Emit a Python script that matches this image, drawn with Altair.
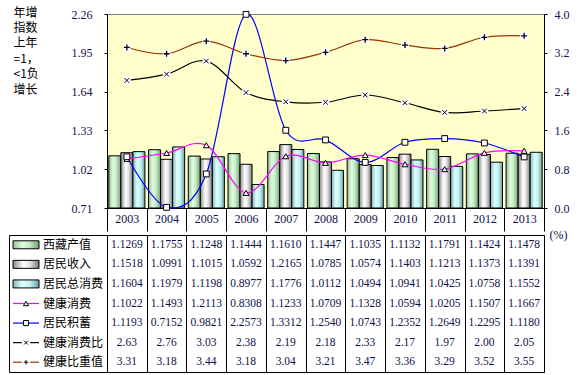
import altair as alt
import pandas as pd

# ---------------- data ----------------
years = [2003, 2004, 2005, 2006, 2007, 2008, 2009, 2010, 2011, 2012, 2013]
xizang_output = [1.1269, 1.1755, 1.1248, 1.1444, 1.1610, 1.1447, 1.1035, 1.1132, 1.1791, 1.1424, 1.1478]
resident_income = [1.1518, 1.0991, 1.1015, 1.0592, 1.2165, 1.0785, 1.0574, 1.1403, 1.1213, 1.1373, 1.1391]
resident_consumption = [1.1604, 1.1979, 1.1198, 0.8977, 1.1776, 1.0112, 1.0494, 1.0941, 1.0425, 1.0758, 1.1552]
health_consumption = [1.1022, 1.1493, 1.2113, 0.8308, 1.1233, 1.0709, 1.1328, 1.0594, 1.0205, 1.1507, 1.1667]
resident_savings = [1.1193, 0.7152, 0.9821, 2.2573, 1.3312, 1.2540, 1.0743, 1.2352, 1.2649, 1.2295, 1.1180]
health_ratio = [2.63, 2.76, 3.03, 2.38, 2.19, 2.18, 2.33, 2.17, 1.97, 2.00, 2.05]
health_share = [3.31, 3.18, 3.44, 3.18, 3.04, 3.21, 3.47, 3.36, 3.29, 3.52, 3.55]

series_names = ["西藏产值", "居民收入", "居民总消费", "健康消费", "居民积蓄", "健康消费比", "健康比重值"]
left_ticks = [0.71, 1.02, 1.33, 1.64, 1.95, 2.26]
right_ticks = [0.0, 0.8, 1.6, 2.4, 3.2, 4.0]
left_title = ["年增", "指数", "上年", "=1，", "<1负", "增长"]
right_title = "(%)"

# ---------------- styles ----------------
SERIF = "Liberation Serif"
CJK = "Noto Sans CJK SC"
TXT = "#10104a"
PLOT_W, PLOT_H = 437, 194
LAB_W, TAB_H = 98, 137


def grad(stops):
    return alt.LinearGradient(
        gradient="linear", x1=0, x2=1, y1=0, y2=0,
        stops=[alt.GradientStop(offset=o, color=c) for o, c in stops],
    )


GREEN = grad([(0, "#95c095"), (0.35, "#e0fae0"), (0.6, "#c8eec8"), (1, "#74a474")])
GRAY = grad([(0, "#8a8a8a"), (0.4, "#ffffff"), (0.65, "#e2e2e2"), (1, "#787878")])
CYAN = grad([(0, "#80b6b6"), (0.35, "#dcffff"), (0.65, "#c4f2f2"), (1, "#6aa0a0")])


def frame(vals, key):
    return pd.DataFrame({"year": years, "v": vals, "s": key})


x_axis = alt.Axis(
    title=None, tickBand="extent", tickSize=23, tickColor="black", domainColor="black",
    labelAngle=0, labelFont=SERIF, labelFontSize=12, labelColor=TXT,
    labelBaseline="middle", labelPadding=-13, grid=False,
)
X = alt.X("year:O", scale=alt.Scale(paddingInner=0, paddingOuter=0), axis=x_axis)

left_axis = alt.Axis(
    title=left_title, titleAngle=0, titleAlign="left", titleBaseline="top",
    titleX=-94, titleY=-7, titleFont=CJK, titleFontSize=12, titleFontWeight="normal",
    titleColor="black", titleLineHeight=15.4,
    values=left_ticks, format=".2f", labelFont=SERIF, labelFontSize=12, labelColor=TXT,
    labelPadding=12, tickSize=3, tickColor="black", domainColor="black", grid=False,
)
right_axis = alt.Axis(
    orient="right", title=None,
    values=right_ticks, format=".1f", labelFont=SERIF, labelFontSize=12, labelColor=TXT,
    labelPadding=7, tickSize=3, tickColor="black", domainColor="black", grid=False,
)
YL = alt.Y("v:Q", scale=alt.Scale(domain=[0.71, 2.26], zero=False, nice=False), axis=left_axis)
YR = alt.Y("v:Q", scale=alt.Scale(domain=[0, 4], zero=False, nice=False), axis=right_axis)
XOFF = alt.XOffset("s:N", scale=alt.Scale(domain=["a", "b", "c"], paddingInner=0, paddingOuter=0.15))

LINE = dict(strokeWidth=1.2, interpolate="cardinal", tension=0)
CROSS = "M-1,-1L1,1M-1,1L1,-1"
PLUS = "M-1,0L1,0M0,-1L0,1"

# ---------------- bars (left axis) ----------------
bars = []
for vals, key, g in [(xizang_output, "a", GREEN), (resident_income, "b", GRAY), (resident_consumption, "c", CYAN)]:
    bars.append(
        alt.Chart(frame(vals, key)).mark_bar(fill=g, stroke="black", strokeWidth=1)
        .encode(x=X, xOffset=XOFF, y=YL, y2=alt.datum(0.71))
    )

hc = frame(health_consumption, "h")
sv = frame(resident_savings, "sv")
left_lines = [
    alt.Chart(sv).mark_line(color="#0000FF", **LINE).encode(x=X, y=YL),
    alt.Chart(hc).mark_line(color="#FF00FF", **LINE).encode(x=X, y=YL),
    alt.Chart(hc).mark_point(shape="triangle-up", filled=True, fill="white", stroke="black",
                             strokeWidth=1, size=34, opacity=1).encode(x=X, y=YL),
    alt.Chart(sv).mark_point(shape="square", filled=True, fill="white", stroke="black",
                             strokeWidth=1, size=34, opacity=1).encode(x=X, y=YL),
]
left_layer = alt.layer(*bars, *left_lines)

# ---------------- lines (right axis) ----------------
rt = frame(health_ratio, "r")
sh = frame(health_share, "p")
right_layer = alt.layer(
    alt.Chart(rt).mark_line(color="black", **LINE).encode(x=X, y=YR),
    alt.Chart(sh).mark_line(color="#993300", **LINE).encode(x=X, y=YR),
    alt.Chart(rt).mark_point(shape="square", filled=True, fill="white", strokeOpacity=0,
                             size=60, opacity=1).encode(x=X, y=YR),
    alt.Chart(sh).mark_point(shape="square", filled=True, fill="white", strokeOpacity=0,
                             size=60, opacity=1).encode(x=X, y=YR),
    alt.Chart(rt).mark_point(shape=CROSS, filled=False, stroke="black", strokeWidth=1,
                             size=22, opacity=1).encode(x=X, y=YR),
    alt.Chart(sh).mark_point(shape=PLUS, filled=False, stroke="black", strokeWidth=1.3,
                             size=36, opacity=1).encode(x=X, y=YR),
)

plot = (
    alt.layer(left_layer, right_layer)
    .resolve_scale(y="independent")
    .properties(width=PLOT_W, height=PLOT_H,
                view=alt.ViewBackground(fill="#FFFFCC", stroke="#808080"))
)

spacer = (
    alt.Chart(pd.DataFrame({"a": [0]})).mark_point(opacity=0)
    .encode(x=alt.value(0), y=alt.value(0))
    .properties(width=LAB_W, height=PLOT_H, view=alt.ViewBackground(strokeOpacity=0))
)

# ---------------- table: legend column ----------------
rows_df = pd.DataFrame({"row": series_names})
YROW = alt.Y("row:N", sort=series_names, axis=None,
             scale=alt.Scale(domain=series_names, paddingInner=0, paddingOuter=0))


def one(i):
    return alt.Chart(rows_df.iloc[[i]])


legend_layers = []
for i, g in enumerate([GREEN, GRAY, CYAN]):
    legend_layers.append(
        one(i).mark_bar(height=8, fill=g, stroke="black", strokeWidth=1)
        .encode(x=alt.value(4), x2=alt.value(30), y=YROW)
    )
for i, c in [(3, "#FF00FF"), (4, "#0000FF"), (5, "black"), (6, "#993300")]:
    legend_layers.append(
        one(i).mark_rule(color=c, strokeWidth=1.2).encode(x=alt.value(4), x2=alt.value(30), y=YROW)
    )
legend_layers += [
    one(3).mark_point(shape="triangle-up", filled=True, fill="white", stroke="black",
                      strokeWidth=1, size=26, opacity=1).encode(x=alt.value(17), y=YROW),
    one(4).mark_point(shape="square", filled=True, fill="white", stroke="black",
                      strokeWidth=1, size=26, opacity=1).encode(x=alt.value(17), y=YROW),
    one(5).mark_point(shape="square", filled=True, fill="white", strokeOpacity=0,
                      size=70, opacity=1).encode(x=alt.value(17), y=YROW),
    one(6).mark_point(shape="square", filled=True, fill="white", strokeOpacity=0,
                      size=70, opacity=1).encode(x=alt.value(17), y=YROW),
    one(5).mark_point(shape=CROSS, filled=False, stroke="black", strokeWidth=1,
                      size=14, opacity=1).encode(x=alt.value(17), y=YROW),
    one(6).mark_point(shape=PLUS, filled=False, stroke="black", strokeWidth=1,
                      size=22, opacity=1).encode(x=alt.value(17), y=YROW),
    alt.Chart(rows_df).mark_text(align="left", baseline="middle", font=CJK, fontSize=12,
                                 color="black").encode(x=alt.value(34), y=YROW, text="row:N"),
]
label_panel = alt.layer(*legend_layers).properties(
    width=LAB_W, height=TAB_H, view=alt.ViewBackground(fill="white", stroke="black")
)

# ---------------- table: values ----------------
cells = []
for name, vals, fmt in [
    (series_names[0], xizang_output, "{:.4f}"),
    (series_names[1], resident_income, "{:.4f}"),
    (series_names[2], resident_consumption, "{:.4f}"),
    (series_names[3], health_consumption, "{:.4f}"),
    (series_names[4], resident_savings, "{:.4f}"),
    (series_names[5], health_ratio, "{:.2f}"),
    (series_names[6], health_share, "{:.2f}"),
]:
    for y, v in zip(years, vals):
        cells.append({"row": name, "year": y, "txt": fmt.format(v)})
cells_df = pd.DataFrame(cells)

grid_x = alt.X("year:O", scale=alt.Scale(paddingInner=0, paddingOuter=0),
               axis=alt.Axis(title=None, labels=False, ticks=False, domain=False, grid=True,
                             tickBand="extent", gridColor="black", gridOpacity=1, gridWidth=1))
grid_y = alt.Y("row:N", sort=series_names,
               scale=alt.Scale(domain=series_names, paddingInner=0, paddingOuter=0),
               axis=alt.Axis(orient="right", labels=False, ticks=False, domain=False, grid=False,
                             title=right_title, titleAngle=0, titleAlign="left", titleBaseline="top",
                             titleX=5, titleY=-6, titleFont=SERIF, titleFontSize=12,
                             titleFontWeight="normal", titleColor=TXT))
grid_panel = (
    alt.Chart(cells_df).mark_text(font=SERIF, fontSize=11.5, color=TXT, baseline="middle")
    .encode(x=grid_x, y=grid_y, text="txt:N")
    .properties(width=PLOT_W, height=TAB_H, view=alt.ViewBackground(fill="white", stroke="black"))
)

top = alt.HConcatChart(hconcat=[spacer, plot], spacing=0, bounds="flush")
bottom = alt.HConcatChart(hconcat=[label_panel, grid_panel], spacing=0, bounds="flush")

chart = alt.VConcatChart(vconcat=[top, bottom], spacing=-5).properties(
    padding={"left": 6, "top": 5, "right": 2, "bottom": 2},
    background="white",
)

chart.save("out.html", embed_options={"renderer": "svg", "actions": False})
